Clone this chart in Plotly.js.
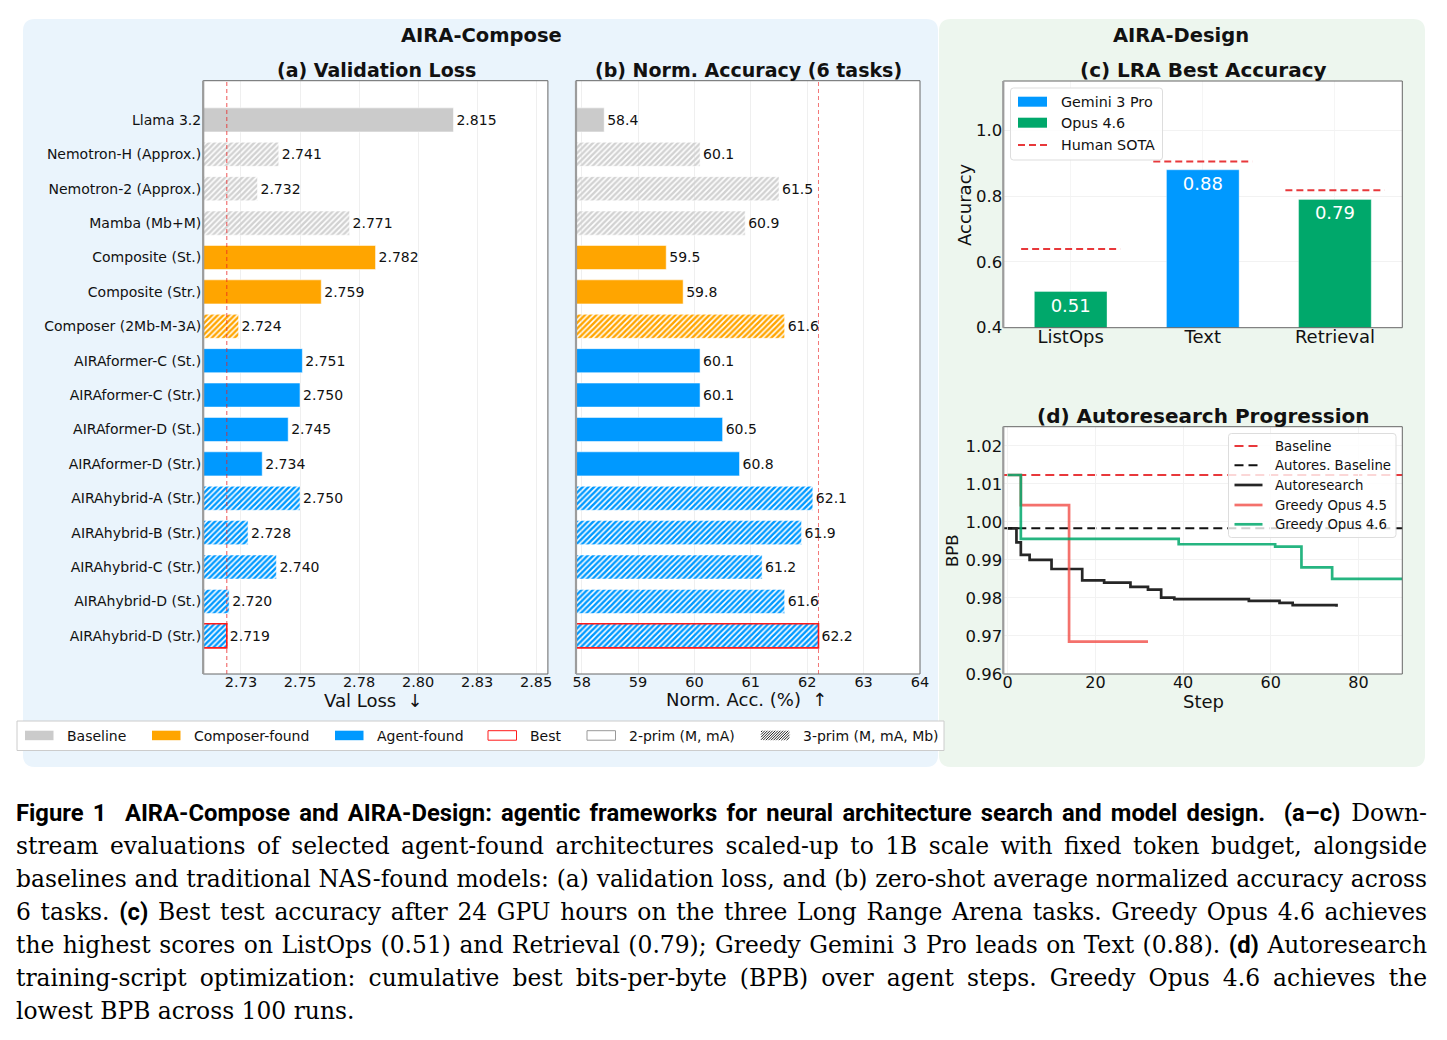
<!DOCTYPE html>
<html>
<head>
<meta charset="utf-8">
<script src="https://cdn.plot.ly/plotly-3.0.1.min.js"></script>
<style>
  body { margin: 0; background: #fff; }
  #wrap { position: relative; width: 1447px; height: 1040px; overflow: hidden; }
  #chart { position: absolute; left: 0; top: 0; width: 1447px; height: 1040px; }
  #caption { position: absolute; left: 16px; top: 797px; width: 1411px;
             font-family: "DejaVu Serif", serif; font-size: 23.4px; line-height: 33px; color: #000; }
  #caption .ln { text-align: justify; text-align-last: justify; white-space: nowrap; }
  #caption .ln.last { text-align-last: left; }
  #caption b { font-family: Roboto, "DejaVu Sans", sans-serif; font-weight: 700; font-size: 23.8px; }
</style>
</head>
<body>
<div id="wrap">
  <div id="chart"></div>
  <div id="caption">
    <div class="ln"><b>Figure 1&nbsp; AIRA-Compose and AIRA-Design: agentic frameworks for neural architecture search and model design.&nbsp; (a–c)</b> Down-</div>
    <div class="ln">stream evaluations of selected agent-found architectures scaled-up to 1B scale with fixed token budget, alongside</div>
    <div class="ln">baselines and traditional NAS-found models: (a) validation loss, and (b) zero-shot average normalized accuracy across</div>
    <div class="ln">6 tasks. <b>(c)</b> Best test accuracy after 24 GPU hours on the three Long Range Arena tasks. Greedy Opus 4.6 achieves</div>
    <div class="ln">the highest scores on ListOps (0.51) and Retrieval (0.79); Greedy Gemini 3 Pro leads on Text (0.88). <b>(d)</b> Autoresearch</div>
    <div class="ln">training-script optimization: cumulative best bits-per-byte (BPB) over agent steps. Greedy Opus 4.6 achieves the</div>
    <div class="ln last">lowest BPB across 100 runs.</div>
  </div>
</div>
<script>
// ---------- AIRA-Compose: 1B-scale downstream evaluation ----------
const models = [
  'Llama 3.2', 'Nemotron-H (Approx.)', 'Nemotron-2 (Approx.)', 'Mamba (Mb+M)',
  'Composite (St.)', 'Composite (Str.)', 'Composer (2Mb-M-3A)',
  'AIRAformer-C (St.)', 'AIRAformer-C (Str.)', 'AIRAformer-D (St.)', 'AIRAformer-D (Str.)',
  'AIRAhybrid-A (Str.)', 'AIRAhybrid-B (Str.)', 'AIRAhybrid-C (Str.)', 'AIRAhybrid-D (St.)', 'AIRAhybrid-D (Str.)'
];
const valLoss = [2.815, 2.741, 2.732, 2.771, 2.782, 2.759, 2.724, 2.751, 2.750, 2.745, 2.734, 2.750, 2.728, 2.740, 2.720, 2.719];
const normAcc = [58.4, 60.1, 61.5, 60.9, 59.5, 59.8, 61.6, 60.1, 60.1, 60.5, 60.8, 62.1, 61.9, 61.2, 61.6, 62.2];
const modelSource = [
  'Baseline', 'Baseline', 'Baseline', 'Baseline',
  'Composer-found', 'Composer-found', 'Composer-found',
  'Agent-found', 'Agent-found', 'Agent-found', 'Agent-found',
  'Agent-found', 'Agent-found', 'Agent-found', 'Agent-found', 'Agent-found'
];
const primitiveCount = [2, 3, 3, 3, 2, 2, 3, 2, 2, 2, 2, 3, 3, 3, 3, 3];
const lossTickVals = [2.725, 2.75, 2.775, 2.8, 2.825, 2.85];
const lossTickText = ['2.73', '2.75', '2.78', '2.80', '2.83', '2.85'];
const accTickVals = [58, 59, 60, 61, 62, 63, 64];
const composeLegend = ['Baseline', 'Composer-found', 'Agent-found', 'Best', '2-prim (M, mA)', '3-prim (M, mA, Mb)'];

// ---------- AIRA-Design: LRA best accuracy ----------
const lraTasks = ['ListOps', 'Text', 'Retrieval'];
const lraBest = [0.51, 0.88, 0.79];
const lraBestAgent = ['Opus 4.6', 'Gemini 3 Pro', 'Opus 4.6'];
const lraHumanSota = [0.639, 0.905, 0.818];
const lraTickVals = [0.4, 0.6, 0.8, 1.0];
const lraLegend = ['Gemini 3 Pro', 'Opus 4.6', 'Human SOTA'];

// ---------- AIRA-Design: autoresearch progression (cumulative best BPB) ----------
const bpbBaseline = 1.0123;
const bpbAutoresBaseline = 0.9983;
const autoresSteps = [0, 2, 3, 5, 10, 17, 22, 28, 32, 35, 38, 55, 62, 65, 75];
const autoresBPB = [0.9983, 0.9946, 0.9913, 0.9900, 0.9876, 0.9846, 0.9840, 0.9829, 0.9822, 0.9801, 0.9797, 0.9792, 0.9787, 0.9781, 0.9777];
const opus45Steps = [0, 3, 14, 32];
const opus45BPB = [1.0123, 1.0044, 0.9685, 0.9685];
const opus46Steps = [0, 3, 39, 61, 67, 74, 90];
const opus46BPB = [1.0123, 0.9955, 0.9941, 0.9935, 0.9880, 0.9850, 0.9850];
const bpbTickVals = [0.96, 0.97, 0.98, 0.99, 1.00, 1.01, 1.02];
const stepTickVals = [0, 20, 40, 60, 80];
const progressionLegend = ['Baseline', 'Autores. Baseline', 'Autoresearch', 'Greedy Opus 4.5', 'Greedy Opus 4.6'];

// ---------- styling ----------
const W = 1447, H = 1040;
const X = p => p / W;
const Y = p => 1 - p / H;
const FONT = 'DejaVu Sans';
const INK = '#111111';
const GRAY = '#CBCBCB', ORANGE = '#FFA500', BLUE = '#0099FF', GREEN = '#00A86B';
const sourceColor = { 'Baseline': GRAY, 'Composer-found': ORANGE, 'Agent-found': BLUE };
const hatchInk = { 'Baseline': '#D2D2D2', 'Composer-found': ORANGE, 'Agent-found': BLUE };
const agentColor = { 'Gemini 3 Pro': BLUE, 'Opus 4.6': GREEN };
const RED = '#E8383B';

const bestIdx = valLoss.indexOf(Math.min(...valLoss));
// hatched (3-primitive) bars: coloured diagonal bands with thin white gaps
const faceColors = modelSource.map((s, i) => (primitiveCount[i] === 3 ? hatchInk[s] : sourceColor[s]));
const hatchShapes = primitiveCount.map(n => (n === 3 ? '/' : ''));
const edgeColors = models.map((_, i) => (i === bestIdx ? '#FF1A1A' : 'rgba(255,255,255,0.9)'));
const edgeWidths = models.map((_, i) => (i === bestIdx ? 1.6 : 0.6));

function composeBars(values, labels, xa, ya) {
  return {
    type: 'bar', orientation: 'h', xaxis: xa, yaxis: ya,
    y: models, x: values, width: 0.7,
    text: labels, textposition: 'outside', cliponaxis: false, constraintext: 'none',
    textfont: { family: FONT, size: 14, color: INK },
    marker: {
      color: faceColors,
      line: { color: edgeColors, width: edgeWidths },
      pattern: { shape: hatchShapes, size: 4, solidity: 0.62, fillmode: 'replace' }
    },
    showlegend: false, hoverinfo: 'x+y'
  };
}

const traces = [];
traces.push(composeBars(valLoss, valLoss.map(v => v.toFixed(3)), 'x', 'y'));
traces.push(composeBars(normAcc, normAcc.map(v => v.toFixed(1)), 'x2', 'y2'));

// LRA bars, colored by the agent that found the best model
traces.push({
  type: 'bar', xaxis: 'x3', yaxis: 'y3',
  x: lraTasks.map((_, i) => i), y: lraBest, width: 0.55,
  marker: { color: lraBestAgent.map(a => agentColor[a]), line: { color: 'rgba(255,255,255,0.6)', width: 0.6 } },
  text: lraBest.map(v => v.toFixed(2)), textposition: 'inside', insidetextanchor: 'end',
  textangle: 0, constraintext: 'none',
  insidetextfont: { family: FONT, size: 18, color: 'white' },
  showlegend: false
});
// Human SOTA reference segments per task
const sotaX = [], sotaY = [];
lraHumanSota.forEach((s, i) => { sotaX.push(i - 0.375, i + 0.375, null); sotaY.push(s, s, null); });
traces.push({
  type: 'scatter', mode: 'lines', xaxis: 'x3', yaxis: 'y3', x: sotaX, y: sotaY,
  line: { color: RED, width: 2, dash: '7px,4px' }, showlegend: false, hoverinfo: 'skip'
});

// Autoresearch progression step curves
const stepLines = [
  { x: autoresSteps, y: autoresBPB, color: 'rgba(20,20,20,0.92)' },
  { x: opus45Steps, y: opus45BPB, color: 'rgba(242,88,82,0.85)' },
  { x: opus46Steps, y: opus46BPB, color: 'rgba(0,168,107,0.85)' }
];
stepLines.forEach(s => traces.push({
  type: 'scatter', mode: 'lines', xaxis: 'x4', yaxis: 'y4', x: s.x, y: s.y,
  line: { color: s.color, width: 2.7, shape: 'hv' }, showlegend: false
}));

// ---------- shapes ----------
const shapes = [];
function rrPath(x0, y0, x1, y1, r) {
  const p = (x, y) => `${X(x)},${Y(y)}`;
  return `M${p(x0 + r, y0)} L${p(x1 - r, y0)} Q${p(x1, y0)} ${p(x1, y0 + r)} L${p(x1, y1 - r)} ` +
         `Q${p(x1, y1)} ${p(x1 - r, y1)} L${p(x0 + r, y1)} Q${p(x0, y1)} ${p(x0, y1 - r)} ` +
         `L${p(x0, y0 + r)} Q${p(x0, y0)} ${p(x0 + r, y0)} Z`;
}
// section backgrounds
shapes.push({ type: 'path', xref: 'paper', yref: 'paper', path: rrPath(23, 19, 938, 767, 12),
  fillcolor: '#EAF4FC', line: { width: 0 }, layer: 'below' });
shapes.push({ type: 'path', xref: 'paper', yref: 'paper', path: rrPath(939, 19, 1425, 767, 12),
  fillcolor: '#EDF6EE', line: { width: 0 }, layer: 'below' });

const subplots = [['x', 'y'], ['x2', 'y2'], ['x3', 'y3'], ['x4', 'y4']];
subplots.forEach(([xa, ya]) => shapes.push({ type: 'rect', xref: xa + ' domain', yref: ya + ' domain',
  x0: 0, x1: 1, y0: 0, y1: 1, fillcolor: 'white', line: { width: 0 }, layer: 'below' }));

// progression reference levels
shapes.push({ type: 'line', xref: 'x4 domain', yref: 'y4', x0: 0, x1: 1, y0: bpbBaseline, y1: bpbBaseline,
  line: { color: RED, width: 2, dash: '9px,5px' }, layer: 'below' });
shapes.push({ type: 'line', xref: 'x4 domain', yref: 'y4', x0: 0, x1: 1, y0: bpbAutoresBaseline, y1: bpbAutoresBaseline,
  line: { color: '#111', width: 2, dash: '9px,5px' }, layer: 'below' });

// best-model markers in (a) and (b)
shapes.push({ type: 'line', xref: 'x', yref: 'y domain', x0: valLoss[bestIdx], x1: valLoss[bestIdx], y0: 0, y1: 1,
  line: { color: 'rgba(235,30,30,0.75)', width: 1, dash: '4px,3px' }, layer: 'above' });
shapes.push({ type: 'line', xref: 'x2', yref: 'y2 domain', x0: normAcc[bestIdx], x1: normAcc[bestIdx], y0: 0, y1: 1,
  line: { color: 'rgba(235,30,30,0.6)', width: 1, dash: '4px,3px' }, layer: 'above' });

// frames
subplots.forEach(([xa, ya]) => {
  shapes.push({ type: 'rect', xref: xa + ' domain', yref: ya + ' domain', x0: 0, x1: 1, y0: 0, y1: 1,
    fillcolor: 'rgba(0,0,0,0)', line: { color: '#666', width: 1 }, layer: 'above' });
  shapes.push({ type: 'line', xref: xa + ' domain', yref: ya + ' domain', x0: 0, x1: 0, y0: 0, y1: 1,
    line: { color: '#9C9C9C', width: 2.2 }, layer: 'above' });
});

// ---------- annotations ----------
const annotations = [];
function label(text, x, y, size, opts = {}) {
  annotations.push(Object.assign({
    text, x: X(x), y: Y(y), xref: 'paper', yref: 'paper', showarrow: false,
    xanchor: 'center', yanchor: 'middle', font: { family: FONT, size, color: INK }
  }, opts));
}
label('<b>AIRA-Compose</b>', 481, 36, 19.5);
label('<b>AIRA-Design</b>', 1181, 36, 19.5);
label('<b>(a) Validation Loss</b>', 376, 70, 19);
label('<b>(b) Norm. Accuracy (6 tasks)</b>', 748, 70, 19);
label('<b>(c) LRA Best Accuracy</b>', 1203, 70, 20);
label('<b>(d) Autoresearch Progression</b>', 1203, 416, 20);
label('Val Loss  ↓', 373, 700, 18);
label('Norm. Acc. (%)  ↑', 746, 699, 18);
label('Step', 1203, 701, 18);
label('Accuracy', 965, 205, 18, { textangle: -90 });
label('BPB', 952, 551, 16.5, { textangle: -90 });

// legend for (c)
shapes.push({ type: 'path', xref: 'paper', yref: 'paper', path: rrPath(1010.5, 88, 1162.5, 160, 3),
  fillcolor: 'rgba(255,255,255,0.85)', line: { color: '#DDDDDD', width: 1 }, layer: 'above' });
const lraRows = [101.7, 122.7, 145];
lraLegend.forEach((name, i) => {
  const yc = lraRows[i];
  if (i < 2) {
    shapes.push({ type: 'rect', xref: 'paper', yref: 'paper', x0: X(1018), x1: X(1047), y0: Y(yc + 5), y1: Y(yc - 5),
      fillcolor: agentColor[name], line: { width: 0 }, layer: 'above' });
  } else {
    shapes.push({ type: 'line', xref: 'paper', yref: 'paper', x0: X(1018), x1: X(1047), y0: Y(yc), y1: Y(yc),
      line: { color: RED, width: 2, dash: '7px,4px' }, layer: 'above' });
  }
  label(name, 1059, yc, 14.3, { xanchor: 'left' });
});

// legend for (d)
shapes.push({ type: 'path', xref: 'paper', yref: 'paper', path: rrPath(1228.5, 433.5, 1396, 537.5, 3),
  fillcolor: 'rgba(255,255,255,0.8)', line: { color: '#DDDDDD', width: 1 }, layer: 'above' });
const progRows = [446, 465.3, 485, 505, 524.3];
const progStyles = [
  { color: RED, dash: '9px,5px' },
  { color: '#111', dash: '9px,5px' },
  { color: 'rgba(20,20,20,0.92)', dash: 'solid' },
  { color: 'rgba(242,88,82,0.85)', dash: 'solid' },
  { color: 'rgba(0,168,107,0.85)', dash: 'solid' }
];
progressionLegend.forEach((name, i) => {
  const yc = progRows[i];
  shapes.push({ type: 'line', xref: 'paper', yref: 'paper', x0: X(1234.5), x1: X(1262.5), y0: Y(yc), y1: Y(yc),
    line: { color: progStyles[i].color, width: i < 2 ? 2 : 2.7, dash: progStyles[i].dash }, layer: 'above' });
  label(name, 1272.5, yc, 13.3, { xanchor: 'left' });
});

// shared legend for (a) and (b)
shapes.push({ type: 'rect', xref: 'paper', yref: 'paper', x0: X(17), x1: X(944), y0: Y(750.5), y1: Y(721),
  fillcolor: 'white', line: { color: '#CCCCCC', width: 1 }, layer: 'above' });
const swatchLeft = [25, 152, 335, 488, 587, 761];
const swatchStyle = [
  { fill: GRAY, line: 'rgba(0,0,0,0)' },
  { fill: ORANGE, line: 'rgba(0,0,0,0)' },
  { fill: BLUE, line: 'rgba(0,0,0,0)' },
  { fill: 'white', line: '#FF1A1A' },
  { fill: 'white', line: '#999999' },
  { fill: 'white', line: 'rgba(0,0,0,0)' }
];
const swTop = 730.7, swBot = 740.2, swW = 28.5;
composeLegend.forEach((name, i) => {
  const x0 = swatchLeft[i];
  shapes.push({ type: 'rect', xref: 'paper', yref: 'paper', x0: X(x0), x1: X(x0 + swW), y0: Y(swBot), y1: Y(swTop),
    fillcolor: swatchStyle[i].fill, line: { color: swatchStyle[i].line, width: 1 }, layer: 'above' });
  label(name, x0 + swW + 11.5, 735.5, 14, { xanchor: 'left' });
});
// hatch inside the 3-prim swatch
(function hatch(x0, y0, x1, y1, step) {
  const h = y1 - y0;
  for (let c = -h + step / 2; c < x1 - x0; c += step) {
    let sx = x0 + c, sy = y1, ex = sx + h, ey = y0;
    if (sx < x0) { sy = y1 - (x0 - sx); sx = x0; }
    if (ex > x1) { ey = y0 + (ex - x1); ex = x1; }
    if (sy - ey < 0.5) continue;
    shapes.push({ type: 'line', xref: 'paper', yref: 'paper', x0: X(sx), y0: Y(sy), x1: X(ex), y1: Y(ey),
      line: { color: '#222', width: 1 }, layer: 'above' });
  }
})(swatchLeft[5], swTop, swatchLeft[5] + swW, swBot, 2.6);

// ---------- axes ----------
const tickFont = s => ({ family: FONT, size: s, color: INK });
const gridCol = '#EFEFEF';
const catRange = [models.length - 1 + 1.11, -1.14];

const layout = {
  width: W, height: H, margin: { l: 0, r: 0, t: 0, b: 0 },
  paper_bgcolor: 'white', plot_bgcolor: 'white',
  font: { family: FONT, color: INK }, showlegend: false, bargap: 0,
  xaxis: { domain: [X(203.2), X(547.9)], anchor: 'y', range: [2.709, 2.855],
    tickvals: lossTickVals, ticktext: lossTickText, tickfont: tickFont(14.5),
    showgrid: true, gridcolor: gridCol, zeroline: false, showline: false, ticks: '', ticklabelstandoff: -3 },
  yaxis: { domain: [Y(674), Y(80.7)], anchor: 'x', type: 'category', categoryorder: 'array',
    categoryarray: models, range: catRange, tickfont: tickFont(14), showgrid: false,
    zeroline: false, showline: false, ticks: '', ticklabelstandoff: 1 },
  xaxis2: { domain: [X(576), X(920)], anchor: 'y2', range: [57.9, 64.0],
    tickvals: accTickVals, tickfont: tickFont(14.5),
    showgrid: true, gridcolor: gridCol, zeroline: false, showline: false, ticks: '', ticklabelstandoff: -3 },
  yaxis2: { domain: [Y(674), Y(80.7)], anchor: 'x2', type: 'category', categoryorder: 'array',
    categoryarray: models, range: catRange, showticklabels: false, showgrid: false,
    zeroline: false, showline: false, ticks: '' },
  xaxis3: { domain: [X(1003.3), X(1402.3)], anchor: 'y3', range: [-0.51, 2.51],
    tickvals: lraTasks.map((_, i) => i), ticktext: lraTasks, tickfont: tickFont(18),
    showgrid: true, gridcolor: '#F5F5F5', zeroline: false, showline: false, ticks: '', ticklabelstandoff: -4 },
  yaxis3: { domain: [Y(327.7), Y(81)], anchor: 'x3', range: [0.4, 1.15],
    tickvals: lraTickVals, tickformat: '.1f', tickfont: tickFont(16.5),
    showgrid: true, gridcolor: '#F2F2F2', zeroline: false, showline: false, ticks: '' },
  xaxis4: { domain: [X(1003.3), X(1402.3)], anchor: 'y4', range: [-1, 90],
    tickvals: stepTickVals, tickfont: tickFont(16),
    showgrid: true, gridcolor: '#F2F2F2', zeroline: false, showline: false, ticks: '', ticklabelstandoff: -3 },
  yaxis4: { domain: [Y(674), Y(426.7)], anchor: 'x4', range: [0.96, 1.025],
    tickvals: bpbTickVals, tickformat: '.2f', tickfont: tickFont(16.5),
    showgrid: true, gridcolor: '#F2F2F2', zeroline: false, showline: false, ticks: '' },
  shapes, annotations
};

Plotly.newPlot('chart', traces, layout, { displayModeBar: false, staticPlot: true });
</script>
</body>
</html>
